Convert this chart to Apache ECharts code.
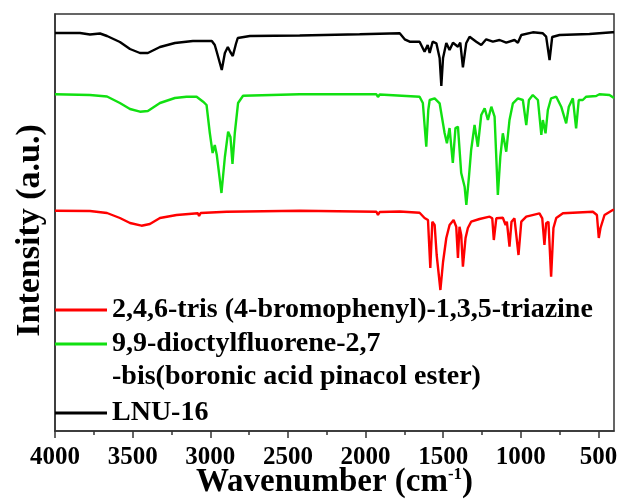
<!DOCTYPE html>
<html>
<head>
<meta charset="utf-8">
<title>FTIR spectra</title>
<script src="https://cdn.jsdelivr.net/npm/echarts@6/dist/echarts.min.js"></script>
<style>
  html, body { margin: 0; padding: 0; background: #fff; }
  #chart { width: 623px; height: 504px; }
</style>
</head>
<body>
<div id="chart"></div>
<script>
// wavenumber (cm-1), intensity (a.u., offset per trace)
const redSpectrum = [
  [4000, 220.3], [3775, 220], [3665, 218], [3582, 213], [3517, 208], [3443, 205.3],
  [3389, 207], [3324, 213], [3217, 216], [3080, 217.7], [3072, 215], [3062, 218],
  [2895, 219.3], [2424, 220.3], [1930, 219.3], [1920, 216], [1909, 219], [1780, 219.5],
  [1652, 218.3], [1620, 213], [1598, 211], [1583, 163], [1570, 209.3], [1555, 206],
  [1542, 176], [1518, 141], [1501, 169], [1480, 193], [1459, 206], [1433, 211],
  [1416, 204.3], [1405, 173], [1395, 204.3], [1384, 196], [1373, 164.3], [1356, 193],
  [1341, 203], [1320, 209.3], [1266, 212], [1201, 214.3], [1184, 212.7], [1174, 191],
  [1158, 212.7], [1116, 213.3], [1098, 206], [1090, 209.3], [1073, 184.3], [1060, 209.3],
  [1041, 212.7], [1015, 176], [997, 209.3], [965, 214.3], [880, 217.7], [862, 212.7],
  [848, 186], [837, 207.7], [822, 209.3], [805, 154.3], [790, 203], [772, 213],
  [729, 217.7], [536, 219.3], [510, 216], [498, 193], [487, 203], [476, 201],
  [461, 216], [408, 221], [400, 221]
];

const greenSpectrum = [
  [4000, 336.7], [3775, 336], [3665, 334.5], [3582, 328], [3517, 322], [3453, 319.3],
  [3402, 320], [3324, 328], [3228, 333], [3153, 334.3], [3088, 334.3], [3046, 329.3],
  [3024, 326], [3003, 298], [2985, 278], [2971, 286], [2958, 276], [2950, 278],
  [2928, 238], [2906, 274], [2885, 299.3], [2870, 294], [2857, 267], [2842, 298],
  [2821, 328], [2789, 335.3], [2424, 336.7], [1930, 336.7], [1920, 334], [1909, 336.5],
  [1652, 334.3], [1631, 328], [1609, 284.3], [1596, 321], [1587, 331], [1555, 332.7],
  [1523, 327.7], [1491, 298], [1476, 287.7], [1459, 303], [1438, 268], [1421, 303],
  [1405, 304.3], [1384, 258], [1362, 244.3], [1351, 226], [1334, 254.3], [1320, 281],
  [1298, 306], [1277, 284.3], [1255, 316], [1233, 322.7], [1212, 311], [1190, 324.3],
  [1169, 314.3], [1148, 236], [1132, 274.3], [1116, 297.7], [1094, 279.3], [1073, 311],
  [1051, 327.7], [1019, 332.7], [987, 331], [965, 306], [948, 331], [923, 336],
  [890, 331], [868, 296], [858, 311], [841, 297.7], [826, 321], [805, 332.7],
  [772, 334.3], [740, 324.3], [708, 307.7], [691, 324.3], [665, 332.7], [644, 302.7],
  [627, 331], [601, 331], [579, 334.3], [515, 335], [494, 336.7], [429, 336], [400, 333]
];

const blackSpectrum = [
  [4000, 398], [3839, 398], [3775, 396.5], [3710, 397.5], [3665, 395], [3582, 389],
  [3517, 382], [3453, 378], [3402, 378], [3324, 384], [3228, 388], [3112, 390],
  [2990, 390], [2971, 386], [2958, 379], [2926, 361], [2906, 378], [2887, 384],
  [2871, 379], [2855, 375], [2835, 387], [2823, 393], [2745, 395], [2424, 395.5],
  [2038, 396.7], [1780, 397.7], [1748, 391.7], [1716, 389.3], [1652, 389.3], [1620, 379.3],
  [1600, 386], [1587, 378], [1568, 389.3], [1544, 387.7], [1523, 373], [1512, 345],
  [1501, 373], [1480, 388], [1459, 381], [1437, 388.3], [1405, 384.3], [1390, 388.3],
  [1373, 363.7], [1352, 387.7], [1330, 394.3], [1287, 389.3], [1255, 386], [1223, 391.7],
  [1180, 389.3], [1137, 391], [1094, 388.3], [1041, 391], [1019, 388.3], [997, 396],
  [923, 398.7], [858, 397.7], [837, 394.3], [815, 371], [798, 394], [751, 396],
  [558, 397], [410, 398.7], [400, 398.7]
];

const seriesNames = [
  '2,4,6-tris (4-bromophenyl)-1,3,5-triazine',
  '9,9-dioctylfluorene-2,7',
  'LNU-16'
];
const seriesColors = ['#ff0000', '#11e011', '#000000'];

const tickValues = [4000, 3500, 3000, 2500, 2000, 1500, 1000, 500];
const minorTickValues = [3750, 3250, 2750, 2250, 1750, 1250, 750];

const serif = '"Liberation Serif", "Times New Roman", serif';

const chart = echarts.init(document.getElementById('chart'));

const legendText = {
  fontFamily: serif,
  fontWeight: 'bold',
  fontSize: 28,
  color: '#000',
  lineHeight: 34
};

chart.setOption({
  animation: false,
  grid: {
    left: 55,
    right: 9,
    top: 14,
    bottom: 73,
    outerBoundsMode: 'none',
    containLabel: false,
    show: true,
    borderColor: '#333',
    borderWidth: 1.5
  },
  legend: [
    {
      data: [seriesNames[0], seriesNames[1]],
      orient: 'vertical',
      left: 55,
      top: 293,
      padding: 0,
      itemGap: 0,
      icon: 'rect',
      itemWidth: 52,
      itemHeight: 3,
      textStyle: legendText
    },
    {
      data: [seriesNames[2]],
      orient: 'vertical',
      left: 55,
      top: 396,
      padding: 0,
      icon: 'rect',
      itemWidth: 52,
      itemHeight: 3,
      textStyle: legendText
    }
  ],
  graphic: [{
    type: 'text',
    left: 112,
    top: 363,
    style: {
      text: '-bis(boronic acid pinacol ester)',
      font: 'bold 28px ' + serif,
      fill: '#000'
    }
  }],
  xAxis: [
    {
      type: 'value',
      inverse: true,
      min: 400,
      max: 4000,
      name: '{a|Wavenumber (cm}{s|-1}{a|)}',
      nameLocation: 'middle',
      nameGap: 35,
      nameMoveOverlap: false,
      nameTextStyle: {
        rich: {
          a: { fontFamily: serif, fontWeight: 'bold', fontSize: 33, color: '#000' },
          s: { fontFamily: serif, fontWeight: 'bold', fontSize: 17, color: '#000', verticalAlign: 'top' }
        }
      },
      axisLine: { lineStyle: { color: '#333', width: 1.5 } },
      axisTick: { customValues: tickValues, length: 7, lineStyle: { color: '#333', width: 1.5 } },
      axisLabel: {
        customValues: tickValues,
        formatter: (v) => String(v),
        margin: 14,
        fontFamily: serif,
        fontWeight: 'bold',
        fontSize: 25,
        color: '#000'
      },
      splitLine: { show: false }
    },
    {
      // minor ticks
      type: 'value',
      inverse: true,
      min: 400,
      max: 4000,
      position: 'bottom',
      axisLine: { show: false },
      axisTick: { customValues: minorTickValues, length: 4, lineStyle: { color: '#333', width: 1.5 } },
      axisLabel: { show: false },
      splitLine: { show: false }
    }
  ],
  yAxis: {
    type: 'value',
    min: 0,
    max: 417,
    name: 'Intensity (a.u.)',
    nameLocation: 'middle',
    nameGap: 8,
    nameTextStyle: {
      fontFamily: serif,
      fontWeight: 'bold',
      fontSize: 34,
      color: '#000',
      padding: [0, 16, 0, 0]
    },
    axisLine: { show: true, lineStyle: { color: '#333', width: 1.5 } },
    axisTick: { show: false },
    axisLabel: { show: false },
    splitLine: { show: false }
  },
  series: [redSpectrum, greenSpectrum, blackSpectrum].map((d, i) => ({
    name: seriesNames[i],
    type: 'line',
    data: d,
    symbol: 'none',
    color: seriesColors[i],
    lineStyle: { width: 2.4, color: seriesColors[i] }
  }))
});
</script>
</body>
</html>
